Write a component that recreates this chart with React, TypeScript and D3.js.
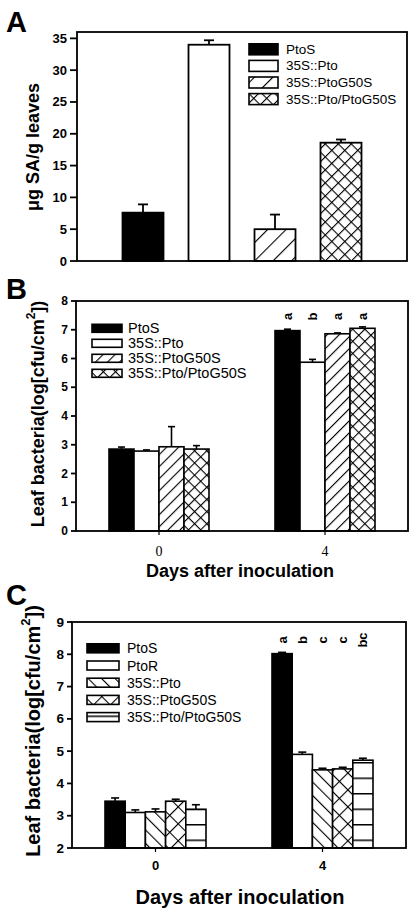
import React from "react";
import * as d3 from "d3";

// ---------- Panel A data ----------
const seriesA = ["PtoS", "35S::Pto", "35S::PtoG50S", "35S::Pto/PtoG50S"];
const valuesA = [7.6, 34.0, 5.0, 18.6];
const errorsA = [1.3, 0.7, 2.3, 0.5];
const ticksA = [0, 5, 10, 15, 20, 25, 30, 35];

// ---------- Panel B data ----------
const daysB = ["0", "4"];
const seriesB = ["PtoS", "35S::Pto", "35S::PtoG50S", "35S::Pto/PtoG50S"];
const valuesB = [
  [2.85, 6.97],
  [2.78, 5.87],
  [2.93, 6.86],
  [2.85, 7.05],
];
const errorsB = [
  [0.07, 0.05],
  [0.04, 0.1],
  [0.7, 0.03],
  [0.12, 0.05],
];
const lettersB = ["a", "b", "a", "a"];
const ticksB = [0, 1, 2, 3, 4, 5, 6, 7, 8];

// ---------- Panel C data ----------
const daysC = ["0", "4"];
const seriesC = ["PtoS", "PtoR", "35S::Pto", "35S::PtoG50S", "35S::Pto/PtoG50S"];
const valuesC = [
  [3.45, 8.02],
  [3.1, 4.9],
  [3.12, 4.42],
  [3.45, 4.45],
  [3.2, 4.72],
];
const errorsC = [
  [0.1, 0.04],
  [0.08, 0.07],
  [0.09, 0.05],
  [0.06, 0.05],
  [0.14, 0.06],
];
const lettersC = ["a", "b", "c", "c", "bc"];
const ticksC = [2, 3, 4, 5, 6, 7, 8, 9];

const SANS = "'Liberation Sans', Arial, Helvetica, sans-serif";
const SERIF = "'Liberation Serif', 'Times New Roman', serif";
const LW = 1.8;

// fills per panel (styles kept separate from the data)
const fillA = ["#000", "#fff", "url(#diagA)", "url(#crossA)"];
const fillB = ["#000", "#fff", "url(#diagB)", "url(#crossB)"];
const fillC = ["#000", "#fff", "url(#backC)", "url(#crossC)", "url(#hstripeC)"];

function Defs() {
  const diag = (id: string, s: number, angle: number) => (
    <pattern id={id} patternUnits="userSpaceOnUse" width={s} height={s} patternTransform={`rotate(${angle})`}>
      <rect width={s} height={s} fill="#fff" />
      <line x1={0} y1={0} x2={0} y2={s} stroke="#000" strokeWidth={2.2} />
    </pattern>
  );
  const cross = (id: string, s: number) => (
    <pattern id={id} patternUnits="userSpaceOnUse" width={s} height={s} patternTransform="rotate(45)">
      <rect width={s} height={s} fill="#fff" />
      <line x1={0} y1={0} x2={0} y2={s} stroke="#000" strokeWidth={2.2} />
      <line x1={0} y1={0} x2={s} y2={0} stroke="#000" strokeWidth={2.2} />
    </pattern>
  );
  return (
    <defs>
      {diag("diagA", 13, 45)}
      {cross("crossA", 9.2)}
      {diag("diagB", 8.5, 45)}
      {cross("crossB", 8.6)}
      {diag("backC", 9.5, -45)}
      {cross("crossC", 12)}
      <pattern id="hstripeC" patternUnits="userSpaceOnUse" x={0} y={777.5} width={20} height={15.5}>
        <rect width={20} height={15.5} fill="#fff" />
        <line x1={0} y1={0} x2={20} y2={0} stroke="#000" strokeWidth={3} />
      </pattern>
    </defs>
  );
}

function YAxis({ y, ticks, x0, fs, tickLen }: any) {
  return (
    <g>
      {ticks.map((t: number) => (
        <g key={t}>
          <line x1={x0 - tickLen} x2={x0} y1={y(t)} y2={y(t)} stroke="#000" strokeWidth={LW} />
          <text
            x={x0 - tickLen - 3}
            y={y(t)}
            textAnchor="end"
            dominantBaseline="central"
            fontFamily={SANS}
            fontWeight="bold"
            fontSize={fs}
          >
            {t}
          </text>
        </g>
      ))}
    </g>
  );
}

function Frame({ l, r, t, b }: any) {
  return <rect x={l} y={t} width={r - l} height={b - t} fill="none" stroke="#000" strokeWidth={LW} />;
}

function Legend({ names, fills, x, y0, dy, w, h, tx, fs }: any) {
  return (
    <g>
      {names.map((n: string, i: number) => (
        <g key={n}>
          <rect x={x} y={y0 + i * dy - h / 2} width={w} height={h} fill={fills[i]} stroke="#000" strokeWidth={1.6} />
          <text x={tx} y={y0 + i * dy} dominantBaseline="central" fontFamily={SANS} fontSize={fs}>
            {n}
          </text>
        </g>
      ))}
    </g>
  );
}

function YLabel({ cx, cy, fs, children }: any) {
  return (
    <text
      transform={`translate(${cx},${cy}) rotate(-90)`}
      textAnchor="middle"
      dominantBaseline="central"
      fontFamily={SANS}
      fontWeight="bold"
      fontSize={fs}
    >
      {children}
    </text>
  );
}

function PanelA() {
  const L = 77, R = 407, T = 32, B = 261;
  const x = d3.scaleLinear().domain([0, seriesA.length + 1]).range([L, R]);
  const y = d3.scaleLinear().domain([0, 36]).range([B, T]);
  const bw = 41;
  return (
    <g>
      <text x={6} y={32} fontFamily={SANS} fontWeight="bold" fontSize={29}>A</text>
      {seriesA.map((s, i) => {
        const cx = x(i + 1);
        const top = y(valuesA[i]);
        const et = y(valuesA[i] + errorsA[i]);
        return (
          <g key={s}>
            <line x1={cx} x2={cx} y1={top} y2={et} stroke="#000" strokeWidth={LW} />
            <line x1={cx - 5} x2={cx + 5} y1={et} y2={et} stroke="#000" strokeWidth={LW} />
            <rect x={cx - bw / 2} y={top} width={bw} height={B - top} fill={fillA[i]} stroke="#000" strokeWidth={LW} />
          </g>
        );
      })}
      <Frame l={L} r={R} t={T} b={B} />
      <YAxis y={y} ticks={ticksA} x0={L} fs={13} tickLen={7} />
      <YLabel cx={33} cy={147} fs={18}>μg SA/g leaves</YLabel>
      <Legend names={seriesA} fills={fillA} x={249} y0={49.3} dy={16.6} w={29} h={11} tx={286} fs={13.5} />
    </g>
  );
}

function GroupPanel({ days, series, values, errors, letters, ticks, domain, fills, box, bw, cap, letterY, yTickFs, children }: any) {
  const { L, R, T, B, xL, xR } = box;
  const x = d3.scaleLinear().domain([-2, 6]).range([xL, xR]);
  const y = d3.scaleLinear().domain(domain).range([B, T]);
  const n = series.length;
  return (
    <g>
      {days.map((d: string, di: number) => {
        const gc = x(+d);
        return (
          <g key={d}>
            {series.map((s: string, si: number) => {
              const cx = gc + (si - (n - 1) / 2) * bw;
              const v = values[si][di];
              const top = y(v);
              const et = y(v + errors[si][di]);
              return (
                <g key={s}>
                  <line x1={cx} x2={cx} y1={top} y2={et} stroke="#000" strokeWidth={1.6} />
                  <line x1={cx - cap} x2={cx + cap} y1={et} y2={et} stroke="#000" strokeWidth={1.6} />
                  <rect x={cx - bw / 2} y={top} width={bw} height={B - top} fill={fills[si]} stroke="#000" strokeWidth={1.6} />
                  {di === days.length - 1 && (
                    <text
                      transform={`translate(${cx},${letterY}) rotate(-90)`}
                      textAnchor="middle"
                      dominantBaseline="central"
                      fontFamily={SANS}
                      fontWeight="bold"
                      fontSize={13}
                    >
                      {letters[si]}
                    </text>
                  )}
                </g>
              );
            })}
            <line x1={gc} x2={gc} y1={B} y2={B + 4} stroke="#000" strokeWidth={1.2} />
          </g>
        );
      })}
      <Frame l={L} r={R} t={T} b={B} />
      <YAxis y={y} ticks={ticks} x0={L} fs={yTickFs} tickLen={5} />
      {children(x)}
    </g>
  );
}

function PanelB() {
  const box = { L: 76, R: 408, T: 301, B: 531, xL: 76, xR: 408 };
  return (
    <g>
      <text x={6} y={299} fontFamily={SANS} fontWeight="bold" fontSize={29}>B</text>
      <GroupPanel
        days={daysB}
        series={seriesB}
        values={valuesB}
        errors={errorsB}
        letters={lettersB}
        ticks={ticksB}
        domain={[0, 8]}
        fills={fillB}
        box={box}
        bw={25}
        cap={3.5}
        letterY={316.5}
        yTickFs={12}
      >
        {(x: any) => (
          <g>
            {daysB.map((d) => (
              <text key={d} x={x(+d)} y={556} textAnchor="middle" fontFamily={SERIF} fontSize={14}>
                {d}
              </text>
            ))}
          </g>
        )}
      </GroupPanel>
      <Legend names={seriesB} fills={fillB} x={92} y0={328.3} dy={15} w={30} h={8} tx={128} fs={14.5} />
      <YLabel cx={38} cy={414} fs={18}>
        Leaf bacteria(log[cfu/cm<tspan baselineShift="super" fontSize={12}>2</tspan>])
      </YLabel>
      <text x={240} y={577} textAnchor="middle" fontFamily={SANS} fontWeight="bold" fontSize={18}>
        Days after inoculation
      </text>
    </g>
  );
}

function PanelC() {
  const box = { L: 72, R: 406, T: 622, B: 848, xL: 72, xR: 406 };
  return (
    <g>
      <text x={6} y={605} fontFamily={SANS} fontWeight="bold" fontSize={29}>C</text>
      <GroupPanel
        days={daysC}
        series={seriesC}
        values={valuesC}
        errors={errorsC}
        letters={lettersC}
        ticks={ticksC}
        domain={[2, 9]}
        fills={fillC}
        box={box}
        bw={20.2}
        cap={4}
        letterY={640}
        yTickFs={13.5}
      >
        {(x: any) => (
          <g>
            {daysC.map((d) => (
              <text key={d} x={x(+d)} y={870} textAnchor="middle" fontFamily={SANS} fontWeight="bold" fontSize={13}>
                {d}
              </text>
            ))}
          </g>
        )}
      </GroupPanel>
      <Legend names={seriesC} fills={fillC} x={87} y0={648.3} dy={17.2} w={32} h={9} tx={127} fs={14} />
      <YLabel cx={33} cy={731} fs={20}>
        Leaf bacteria(log[cfu/cm<tspan baselineShift="super" fontSize={13}>2</tspan>])
      </YLabel>
      <text x={240} y={904} textAnchor="middle" fontFamily={SANS} fontWeight="bold" fontSize={20}>
        Days after inoculation
      </text>
    </g>
  );
}

export default function App() {
  return (
    <svg
      width={411}
      height={912}
      viewBox="0 0 411 912"
      style={{ position: "absolute", left: 0, top: 0, background: "#fff" }}
    >
      <rect width={411} height={912} fill="#fff" />
      <Defs />
      <PanelA />
      <PanelB />
      <PanelC />
    </svg>
  );
}
